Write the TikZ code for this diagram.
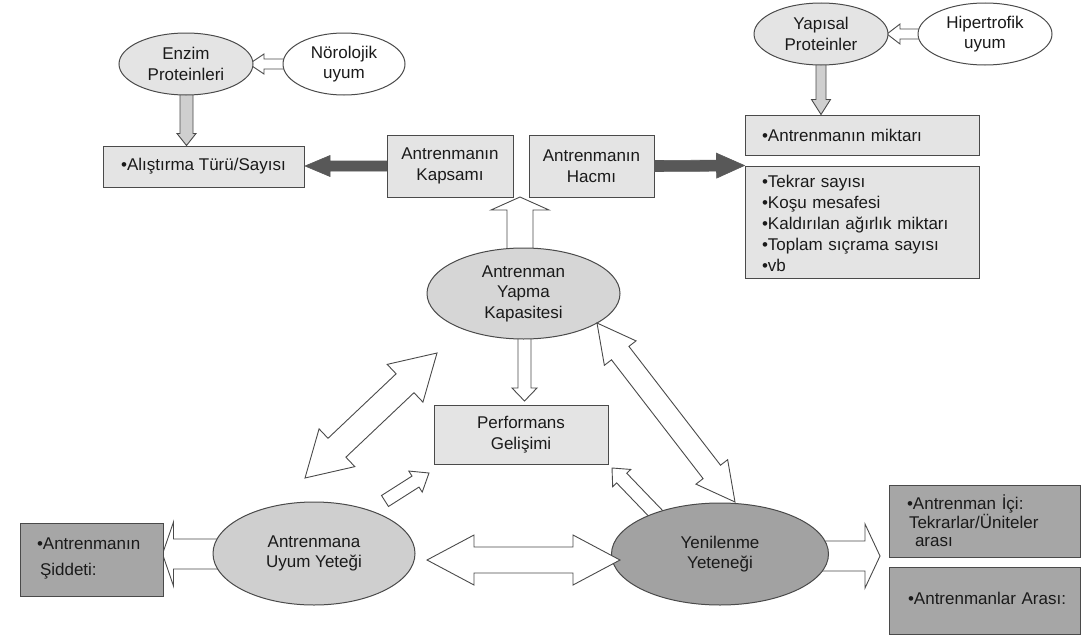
\documentclass[tikz,border=0pt]{standalone}
\usepackage{fontspec}
\setmainfont{Liberation Sans}
\usetikzlibrary{shapes.geometric,calc}
\pgfdeclarelayer{bg}
\pgfsetlayers{bg,main}
\definecolor{txt}{HTML}{1A1A1A}
\definecolor{bord}{HTML}{4A4A4A}
\definecolor{lightf}{HTML}{E4E4E4}
\definecolor{aykf}{HTML}{D6D6D6}
\definecolor{uyumf}{HTML}{CFCFCF}
\definecolor{darkf}{HTML}{A6A6A6}
\definecolor{yenf}{HTML}{A2A2A2}
\definecolor{garr}{HTML}{CFCFCF}
\definecolor{darr}{HTML}{585858}
% single block arrow: style, tail, tip, shaft half width, head half width, head length
\newcommand\blockarrow[6]{%
  \coordinate (bab) at ($(#3)!#6pt!(#2)$);
  \draw[#1] ($(#2)!#4pt!90:(#3)$) -- ($(bab)!#4pt!90:(#3)$) -- ($(bab)!#5pt!90:(#3)$) -- (#3)
    -- ($(bab)!#5pt!-90:(#3)$) -- ($(bab)!#4pt!-90:(#3)$) -- ($(#2)!#4pt!-90:(#3)$) -- cycle;}
% double block arrow: style, tipA, tipB, shaft half width, head half width, head length
\newcommand\dblarrow[6]{%
  \coordinate (daa) at ($(#2)!#6pt!(#3)$);
  \coordinate (dab) at ($(#3)!#6pt!(#2)$);
  \draw[#1] (#2) -- ($(daa)!#5pt!90:(#3)$) -- ($(daa)!#4pt!90:(#3)$) -- ($(dab)!#4pt!-90:(#2)$)
    -- ($(dab)!#5pt!-90:(#2)$) -- (#3) -- ($(dab)!#5pt!90:(#2)$) -- ($(dab)!#4pt!90:(#2)$)
    -- ($(daa)!#4pt!-90:(#3)$) -- ($(daa)!#5pt!-90:(#3)$) -- cycle;}
\begin{document}
\begin{tikzpicture}[x=1pt,y=-1pt,
  every node/.style={font=\fontsize{17}{20.5}\selectfont, text=txt, inner sep=0pt, align=center},
  box/.style={draw=bord, line width=1pt, rectangle},
  ell/.style={draw=bord, line width=1pt, ellipse},
  harrow/.style={draw=bord, line width=0.9pt, fill=white, line join=miter},
  garrow/.style={draw=bord, line width=0.9pt, fill=garr, line join=miter},
  darrow/.style={draw=darr, line width=0.6pt, fill=darr, line join=miter}]
\begin{pgfonlayer}{bg}
\fill[white] (0,0) rectangle (1084,637);
\end{pgfonlayer}
\useasboundingbox (0,0) rectangle (1084,637);

% top left
\node[ell, fill=lightf, minimum width=134pt, minimum height=62pt] (enz) at (186,64) {Enzim\\Proteinleri};
\node[ell, fill=white, minimum width=122pt, minimum height=62pt] (nor) at (344,64) {Nörolojik\\uyum};
\node[box, fill=lightf, minimum width=201pt, minimum height=41pt] (alis) at (203.5,166.5) {•Alıştırma Türü/Sayısı};
% top middle
\node[box, fill=lightf, minimum width=126pt, minimum height=62pt] (kap) at (450,166) {Antrenmanın\\Kapsamı};
\node[box, fill=lightf, minimum width=125pt, minimum height=62pt] (hac) at (591.5,166) {Antrenmanın\\Hacmı};
% top right
\node[ell, fill=lightf, minimum width=134pt, minimum height=62pt] (yap) at (821,34) {Yapısal\\Proteinler};
\node[ell, fill=white, minimum width=134pt, minimum height=62pt] (hip) at (985,34) {Hipertrofik\\uyum};
\node[box, fill=lightf, minimum width=234pt, minimum height=40pt, text width=200pt, align=left] (mik) at (862,135) {•Antrenmanın miktarı};
\node[box, fill=lightf, minimum width=234pt, minimum height=112pt, text width=200pt, align=left,
  font=\fontsize{17}{20.8}\selectfont] (list) at (862,222)
  {\rule{0pt}{15pt}•Tekrar sayısı\\•Koşu mesafesi\\•Kaldırılan ağırlık miktarı\\•Toplam sıçrama sayısı\\•vb};
% centre
\node[ell, fill=aykf, minimum width=193pt, minimum height=91pt] (ayk) at (523.5,293.5) {Antrenman\\Yapma\\Kapasitesi};
\node[box, fill=lightf, minimum width=174pt, minimum height=59pt] (perf) at (521,434.5) {Performans\\Gelişimi};
% bottom
\node[ell, fill=uyumf, minimum width=202pt, minimum height=103pt] (uyum) at (314,553.5) {Antrenmana\\Uyum Yeteği};
\node[ell, fill=yenf, minimum width=217pt, minimum height=102pt] (yen) at (720,554) {Yenilenme\\Yeteneği};
\node[box, fill=darkf, minimum width=143pt, minimum height=73pt, text width=109pt, align=left,
  font=\fontsize{17}{26}\selectfont] (sid) at (91.5,559.5) {•Antrenmanın\\\hspace*{3pt}Şiddeti:\rule[-6pt]{0pt}{6pt}};
\node[box, fill=darkf, minimum width=191pt, minimum height=72pt, text width=155pt, align=left,
  font=\fontsize{17}{18.5}\selectfont] (ici) at (984.5,521) {•Antrenman İçi:\\\hspace*{2pt}Tekrarlar/Üniteler\\\hspace*{8pt}arası};
\node[box, fill=darkf, minimum width=191pt, minimum height=67pt, text width=172pt, align=left] (ara) at (984.5,600.5) {\hspace*{9.5pt}•Antrenmanlar Arası:\rule[-4pt]{0pt}{4pt}};

% connector end points
\coordinate (norT) at ($(nor.center)+(-30,0)$);
\coordinate (enzH) at (249,64);
\coordinate (enzT) at ($(enz.south)+(0.5,-10)$);
\coordinate (alisH) at ($(alis.north)+(-17,0)$);
\coordinate (hipT) at ($(hip.west)+(12,0)$);
\coordinate (yapH) at (887,34);
\coordinate (yapT) at ($(yap.south)+(0,-10)$);
\coordinate (mikH) at ($(mik.north)+(-41,0)$);
\coordinate (kapT) at (kap.west);
\coordinate (alisE) at (305,166);
\coordinate (hacT) at (hac.east);
\coordinate (listH) at (list.north west);
\coordinate (aykN) at (520,262);
\coordinate (boxH) at (520,197);
\coordinate (aykS) at (524.5,328);
\coordinate (perfH) at (524.5,401);
\coordinate (uyumA) at (305,478);
\coordinate (aykA) at (437,353);
\coordinate (uyumT) at (385,501);
\coordinate (perfL) at (429,473);
\coordinate (aykB) at (597,323);
\coordinate (yenB) at (735,502);
\coordinate (yenT) at (662,520);
\coordinate (perfR) at (612,468);
\coordinate (uyumC) at (427,560);
\coordinate (yenC) at (620,560);
\coordinate (uyumW) at ($(uyum.center)+(-86,0.5)$);
\coordinate (sidH) at ($(sid.east)+(-1,-5.5)$);
\coordinate (yenE) at ($(yen.center)+(95,2)$);
\coordinate (rightH) at (880,556);

\begin{pgfonlayer}{bg}
\blockarrow{harrow}{norT}{enzH}{5}{10}{15}
\blockarrow{garrow}{enzT}{alisH}{6.5}{9.5}{12}
\blockarrow{harrow}{hipT}{yapH}{5}{10}{13}
\blockarrow{garrow}{yapT}{mikH}{5}{9.5}{15}
\blockarrow{harrow}{aykN}{boxH}{13}{29}{13}
\blockarrow{harrow}{aykS}{perfH}{6.5}{12.5}{13}
\blockarrow{harrow}{uyumW}{sidH}{15}{32}{11}
\blockarrow{harrow}{yenE}{rightH}{15}{32}{15}
\blockarrow{harrow}{yenT}{perfR}{7}{12.5}{14}
\end{pgfonlayer}
\blockarrow{darrow}{kapT}{alisE}{5}{10.5}{25}
\blockarrow{darrow}{hacT}{listH}{5.5}{12.5}{28}
\blockarrow{harrow}{uyumT}{perfL}{6.5}{12.5}{16}
\dblarrow{harrow}{uyumA}{aykA}{13}{26}{44}
\dblarrow{harrow}{aykB}{yenB}{11}{20}{38}
\dblarrow{harrow}{uyumC}{yenC}{13}{25}{47}
\end{tikzpicture}
\end{document}
